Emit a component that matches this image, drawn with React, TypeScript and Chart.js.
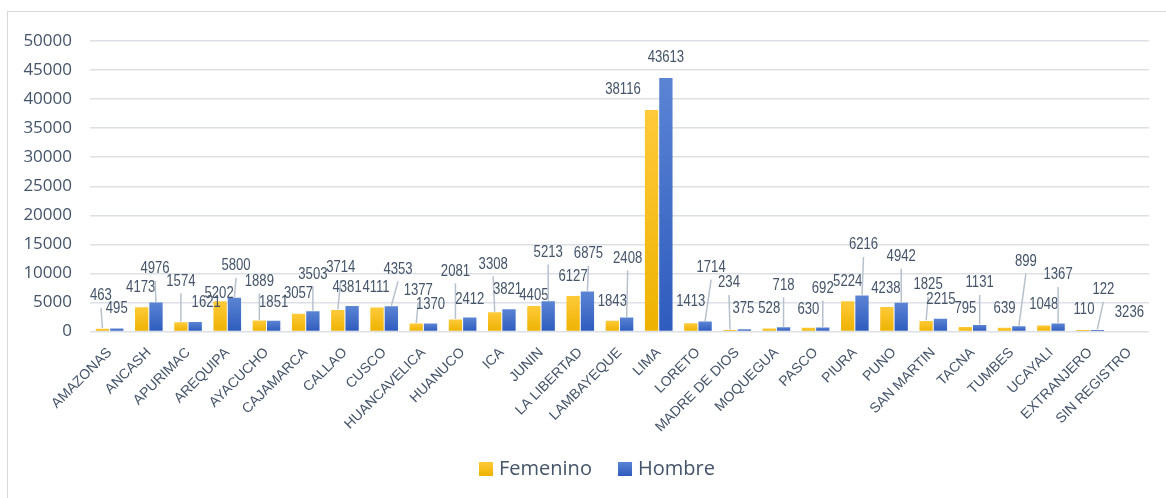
import React, { useEffect, useRef } from "react";
import { Chart, registerables } from "chart.js";

Chart.register(...registerables);

const departamentos = [
  "AMAZONAS", "ANCASH", "APURIMAC", "AREQUIPA", "AYACUCHO", "CAJAMARCA", "CALLAO",
  "CUSCO", "HUANCAVELICA", "HUANUCO", "ICA", "JUNIN", "LA LIBERTAD", "LAMBAYEQUE",
  "LIMA", "LORETO", "MADRE DE DIOS", "MOQUEGUA", "PASCO", "PIURA", "PUNO",
  "SAN MARTIN", "TACNA", "TUMBES", "UCAYALI", "EXTRANJERO", "SIN REGISTRO",
];

const femenino: (number | null)[] = [
  463, 4173, 1574, 5202, 1889, 3057, 3714, 4111, 1377, 2081, 3308, 4405, 6127, 1843,
  38116, 1413, 234, 528, 630, 5224, 4238, 1825, 795, 639, 1048, 110, null,
];

const hombre: (number | null)[] = [
  495, 4976, 1621, 5800, 1851, 3503, 4381, 4353, 1370, 2412, 3821, 5213, 6875, 2408,
  43613, 1714, 375, 718, 692, 6216, 4942, 2215, 1131, 899, 1367, 122, null,
];

// label shown at "SIN REGISTRO", where no bar is drawn
const sinRegistroCategoria = "SIN REGISTRO";
const sinRegistroEtiqueta = "3236";

const yTicks = [0, 5000, 10000, 15000, 20000, 25000, 30000, 35000, 40000, 45000, 50000];

// label displacement from bar top: [dx, dy, leader line]
const femOffsets: [number, number, number][] = [
  [-1.5, -33, 1], [-1, -20, 0], [0, -41, 1], [-1, -8, 0], [0, -39, 1], [0, -20.5, 0],
  [3, -42, 1], [-1, -20, 0], [2, -33, 1], [0, -48, 1], [-1.5, -48, 1], [0, -10, 0],
  [0, -19, 0], [0, -19, 0], [-28.6, -20, 0], [0, -21.6, 0], [-1, -47, 1], [0, -20, 0],
  [0, -18.5, 0], [0, -19.5, 0], [-1, -18.6, 0], [2, -36, 1], [0, -18.6, 0], [0, -19.5, 0],
  [0, -20.4, 0], [1, -20, 0], [0, 0, 0],
];
const homOffsets: [number, number, number][] = [
  [0, -19.6, 0], [-1, -33.6, 1], [11, -19.4, 0], [1.6, -32, 1], [0, -18, 0], [0, -37, 1],
  [-5, -18.4, 0], [6.7, -37, 1], [0, -19.3, 0], [0, -18.2, 0], [-1.5, -19.3, 0], [0, -48.6, 1],
  [1, -37.6, 1], [1, -59, 1], [0, -20.8, 0], [6, -54, 1], [-1, -21, 0], [0, -42, 1],
  [0, -39, 1], [1.5, -50.4, 1], [0, -46, 1], [0.5, -19.4, 0], [0, -42, 1], [7, -64.6, 1],
  [0, -48.6, 1], [6, -40, 1], [0, 0, 0],
];

const TEXT = "#44546A";
const LABEL_FONT = "16px 'Liberation Sans', Arial, sans-serif";
const LABEL_SQUEEZE = 0.82;

const FEM_TOP = "#FFCA3A";
const FEM_BOT = "#EDB200";
const HOM_TOP = "#5B84D4";
const HOM_BOT = "#2E5CBE";

const gradient = (c1: string, c2: string) => (ctx: any) => {
  const chart = ctx.chart;
  const v = ctx.raw;
  if (!chart.chartArea || v == null || !chart.scales.y) return c1;
  const ys = chart.scales.y;
  const top = ys.getPixelForValue(v);
  const bot = ys.getPixelForValue(0);
  if (!(bot - top > 2)) return c2;
  const g = chart.ctx.createLinearGradient(0, top, 0, bot);
  g.addColorStop(0, c1);
  g.addColorStop(1, c2);
  return g;
};

function drawLabel(ctx: any, text: string, x: number, y: number) {
  ctx.save();
  ctx.translate(x, y);
  ctx.scale(LABEL_SQUEEZE, 1);
  ctx.fillText(text, 0, 0);
  ctx.restore();
}

const labelsPlugin = {
  id: "leaderLabels",
  afterDatasetsDraw(chart: any) {
    const ctx = chart.ctx;
    ctx.save();
    ctx.font = LABEL_FONT;
    ctx.textAlign = "center";
    ctx.textBaseline = "middle";
    const offsets = [femOffsets, homOffsets];
    chart.data.datasets.forEach((ds: any, di: number) => {
      const meta = chart.getDatasetMeta(di);
      meta.data.forEach((el: any, i: number) => {
        const v = ds.data[i];
        if (v == null) return;
        const [dx, dy, line] = offsets[di][i];
        const lx = el.x + dx;
        const ly = el.y + dy;
        if (line) {
          ctx.strokeStyle = "#B7C1CE";
          ctx.lineWidth = 1.5;
          ctx.beginPath();
          ctx.moveTo(lx, ly + 12);
          ctx.lineTo(el.x, el.y - 0.5);
          ctx.stroke();
        }
        ctx.fillStyle = TEXT;
        drawLabel(ctx, String(v), lx, ly);
      });
    });
    const xs = chart.scales.x;
    const ys = chart.scales.y;
    const idx = departamentos.indexOf(sinRegistroCategoria);
    ctx.fillStyle = TEXT;
    drawLabel(ctx, sinRegistroEtiqueta, xs.getPixelForValue(idx), ys.getPixelForValue(0) - 19);
    ctx.restore();
  },
};

const legendPlugin = {
  id: "bottomLegend",
  afterDraw(chart: any) {
    const ctx = chart.ctx;
    ctx.save();
    const items = [
      { text: "Femenino", x: 479, c1: FEM_TOP, c2: FEM_BOT },
      { text: "Hombre", x: 618, c1: HOM_TOP, c2: HOM_BOT },
    ];
    const y = 462;
    ctx.font = "20px 'Open Sans', sans-serif";
    ctx.textBaseline = "middle";
    ctx.textAlign = "left";
    items.forEach((it) => {
      const g = ctx.createLinearGradient(0, y, 0, y + 14);
      g.addColorStop(0, it.c1);
      g.addColorStop(1, it.c2);
      ctx.fillStyle = g;
      ctx.fillRect(it.x, y, 14, 14);
      ctx.fillStyle = TEXT;
      ctx.fillText(it.text, it.x + 20, y + 7.5);
    });
    ctx.restore();
  },
};

export default function App() {
  const ref = useRef<HTMLCanvasElement | null>(null);
  useEffect(() => {
    if (!ref.current) return;
    const chart = new Chart(ref.current, {
      type: "bar",
      data: {
        labels: departamentos,
        datasets: [
          {
            label: "Femenino",
            data: femenino,
            backgroundColor: gradient(FEM_TOP, FEM_BOT),
            borderWidth: 0,
            categoryPercentage: 0.73,
            barPercentage: 0.93,
            minBarLength: 1.6,
          },
          {
            label: "Hombre",
            data: hombre,
            backgroundColor: gradient(HOM_TOP, HOM_BOT),
            borderWidth: 0,
            categoryPercentage: 0.73,
            barPercentage: 0.93,
            minBarLength: 1.6,
          },
        ],
      },
      options: {
        animation: false,
        responsive: false,
        maintainAspectRatio: false,
        devicePixelRatio: 1,
        layout: { padding: { top: 41, right: 17, left: 0, bottom: 0 } },
        plugins: {
          legend: { display: false },
          tooltip: { enabled: false },
        },
        scales: {
          x: {
            type: "category",
            grid: { display: false },
            border: { display: false },
            ticks: {
              autoSkip: false,
              maxRotation: 45,
              minRotation: 45,
              padding: 5,
              color: TEXT,
              font: { family: "'Liberation Sans', Arial, sans-serif", size: 14 },
            },
            afterFit: (s: any) => {
              s.height = 166.5;
            },
          },
          y: {
            min: 0,
            max: 50000,
            border: { display: false },
            grid: { color: "#DCE0E5", lineWidth: 1.5, drawTicks: false },
            ticks: {
              padding: 18,
              color: TEXT,
              font: { family: "'Open Sans', sans-serif", size: 17 },
              callback: (v: any) => String(v),
            },
            afterBuildTicks: (s: any) => {
              s.ticks = yTicks.map((v) => ({ value: v }));
            },
            afterFit: (s: any) => {
              s.width = 90;
            },
          },
        },
      },
      plugins: [labelsPlugin, legendPlugin],
    } as any);
    return () => chart.destroy();
  }, []);

  return (
    <div style={{ position: "fixed", left: 0, top: 0, width: 1166, height: 498, overflow: "hidden", background: "#fff" }}>
      <div
        style={{
          position: "absolute",
          left: 7,
          top: 11,
          width: 1300,
          height: 700,
          border: "1px solid #D9D9D9",
          boxSizing: "border-box",
        }}
      />
      <canvas ref={ref} width={1166} height={498} style={{ position: "absolute", left: 0, top: 0, width: 1166, height: 498 }} />
    </div>
  );
}
